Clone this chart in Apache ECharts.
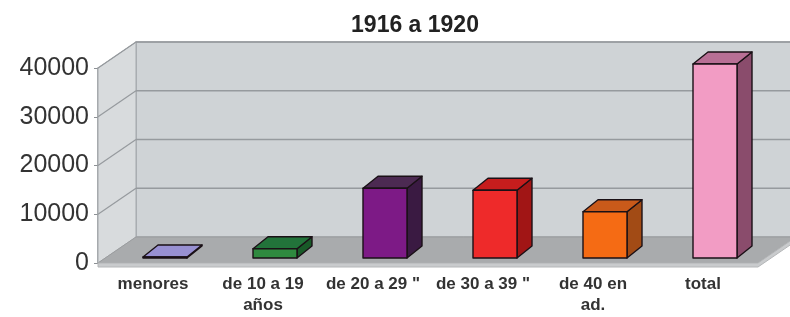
<!DOCTYPE html>
<html>
<head>
<meta charset="utf-8">
<script src="https://cdn.jsdelivr.net/npm/echarts@6/dist/echarts.min.js"></script>
<style>
  html, body { margin: 0; padding: 0; background: #fff; }
  #main { width: 790px; height: 317px; }
</style>
</head>
<body>
<div id="main"></div>
<script>
// data
const categories = ['menores', 'de 10 a 19\naños', 'de 20 a 29 "', 'de 30 a 39 "', 'de 40 en\nad.', 'total']
const values = [200, 1900, 14300, 13900, 9500, 39800]
const yTicks = [0, 10000, 20000, 30000, 40000]

// colours of each bar: front, top, side
const faceColors = [
    ['#8f87c9', '#9890d2', '#6f68a8'],
    ['#2f8a3f', '#22733a', '#185a28'],
    ['#7d1a86', '#4c2a52', '#3a1a42'],
    ['#ee2a2a', '#c61d1d', '#a11515'],
    ['#f56b14', '#c95a1a', '#a24b15'],
    ['#f29cc4', '#b86f95', '#8a4c6c']
]

// depth of the box (walls) and of the bars
const WALL_DX = 38, WALL_DY = -26
const BAR_SHIFT_X = 12, BAR_SHIFT_Y = -5
const BAR_DX = 15, BAR_DY = -12

let myChart = echarts.init(document.getElementById('main'))

function renderFrame(params, api) {
    let cs = params.coordSys
    let x = cs.x, y = cs.y, w = cs.width, h = cs.height
    let b = y + h
    let children = [
        {   // back wall
            type: 'polygon',
            shape: { points: [[x + WALL_DX, y + WALL_DY], [x + w + WALL_DX + 40, y + WALL_DY], [x + w + WALL_DX + 40, b + WALL_DY], [x + WALL_DX, b + WALL_DY]] },
            style: { fill: '#cfd3d6', stroke: '#a4a8ac', lineWidth: 1.5 }
        },
        {   // left wall
            type: 'polygon',
            shape: { points: [[x, y], [x + WALL_DX, y + WALL_DY], [x + WALL_DX, b + WALL_DY], [x, b]] },
            style: { fill: '#d8dbdd', stroke: '#a4a8ac', lineWidth: 1 }
        },
        {   // floor
            type: 'polygon',
            shape: { points: [[x, b], [x + w, b], [x + w + WALL_DX, b + WALL_DY], [x + WALL_DX, b + WALL_DY]] },
            style: { fill: '#a9abad', stroke: '#9a9c9e', lineWidth: 1 }
        },
        {   // floor front edge
            type: 'polygon',
            shape: { points: [[x, b], [x + w, b], [x + w + WALL_DX, b + WALL_DY], [x + w + WALL_DX, b + WALL_DY + 4], [x + w, b + 4], [x, b + 4]] },
            style: { fill: '#c9cbcd', stroke: '#b4b6b8', lineWidth: 1 }
        }
    ]
    yTicks.forEach(function (t) {
        if (t === 0) return
        let py = api.coord([0, t])[1]
        children.push({
            type: 'line',
            shape: { x1: x + WALL_DX, y1: py + WALL_DY, x2: x + w + WALL_DX + 40, y2: py + WALL_DY },
            style: { stroke: '#969a9e', lineWidth: 1.5 }
        })
        children.push({
            type: 'line',
            shape: { x1: x, y1: py, x2: x + WALL_DX, y2: py + WALL_DY },
            style: { stroke: '#969a9e', lineWidth: 1.2 }
        })
    })
    return { type: 'group', children: children }
}

function renderBar(params, api) {
    let idx = api.value(0)
    let p0 = api.coord([idx, 0])
    let p1 = api.coord([idx, api.value(1)])
    let bw = api.size([1, 0])[0] * 0.4
    let l = p0[0] - bw / 2 + BAR_SHIFT_X
    let r = l + bw
    let bot = p0[1] + BAR_SHIFT_Y
    let top = Math.min(p1[1] + BAR_SHIFT_Y, bot - 1)
    let c = faceColors[params.dataIndex]
    let line = { stroke: '#1a1016', lineWidth: 1.4, lineJoin: 'round' }
    return {
        type: 'group',
        children: [
            {
                type: 'polygon',
                shape: { points: [[r, top], [r + BAR_DX, top + BAR_DY], [r + BAR_DX, bot + BAR_DY], [r, bot]] },
                style: Object.assign({ fill: c[2] }, line)
            },
            {
                type: 'polygon',
                shape: { points: [[l, top], [r, top], [r + BAR_DX, top + BAR_DY], [l + BAR_DX, top + BAR_DY]] },
                style: Object.assign({ fill: c[1] }, line)
            },
            {
                type: 'rect',
                shape: { x: l, y: top, width: bw, height: bot - top },
                style: Object.assign({ fill: c[0] }, line)
            }
        ]
    }
}

let option = {
    animation: false,
    title: {
        text: '1916 a 1920',
        left: 410,
        top: 9,
        textAlign: 'center',
        textStyle: {
            fontFamily: 'Liberation Sans, Arial, sans-serif',
            fontSize: 23,
            fontWeight: 'bold',
            color: '#222'
        }
    },
    grid: {
        left: 98,
        right: 32,
        top: 68,
        bottom: 54
    },
    xAxis: {
        type: 'category',
        data: categories,
        axisLine: { show: false },
        axisTick: { show: false },
        axisLabel: {
            interval: 0,
            margin: 11,
            fontFamily: 'Liberation Sans, Arial, sans-serif',
            fontSize: 17,
            fontWeight: 'bold',
            lineHeight: 21,
            color: '#333'
        }
    },
    yAxis: {
        type: 'value',
        min: 0,
        max: 40000,
        interval: 10000,
        axisLine: { show: true, lineStyle: { color: '#8c9094', width: 1.5 } },
        axisTick: { show: true, length: 4, lineStyle: { color: '#8c9094' } },
        splitLine: { show: false },
        axisLabel: {
            margin: 9,
            formatter: function (v) { return String(v) },
            fontFamily: 'Liberation Sans, Arial, sans-serif',
            fontSize: 25,
            color: '#333'
        }
    },
    series: [
        {
            name: 'frame',
            type: 'custom',
            clip: false,
            silent: true,
            z: 1,
            renderItem: renderFrame,
            data: [[0, 0]]
        },
        {
            name: '1916 a 1920',
            type: 'custom',
            clip: false,
            z: 3,
            renderItem: renderBar,
            encode: { x: 0, y: 1 },
            data: values.map(function (v, i) { return [i, v] })
        }
    ]
}
myChart.setOption(option)
</script>
</body>
</html>
